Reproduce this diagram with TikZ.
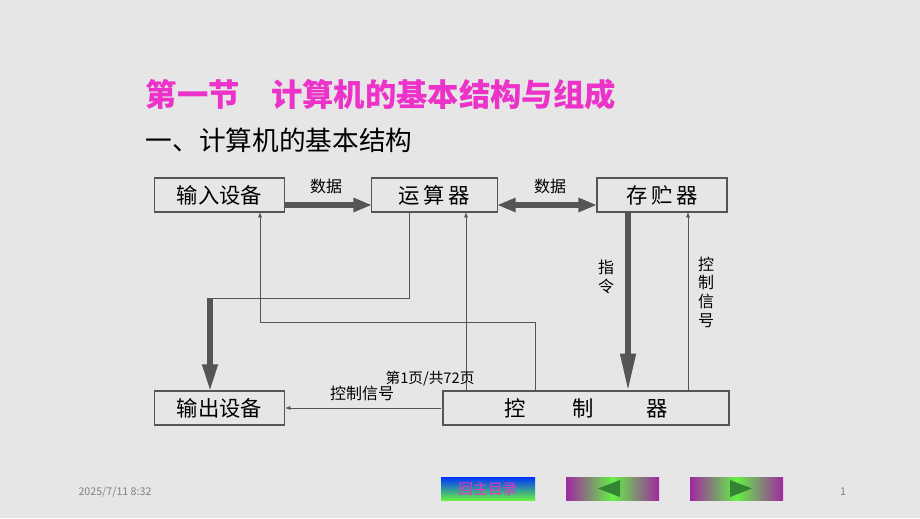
\documentclass[tikz,border=0pt]{standalone}
\usepackage{fontspec}
\setmainfont{Noto Sans CJK SC}
\usetikzlibrary{arrows.meta}
\definecolor{bg}{RGB}{230,230,230}
\definecolor{heavy}{RGB}{85,85,85}
\definecolor{titlepink}{RGB}{236,50,200}
\definecolor{navpurple}{RGB}{160,40,160}
\definecolor{navgreen}{RGB}{100,240,70}
\tikzset{
  unit/.style={draw=heavy,thick,fill=bg,inner sep=0pt,font=\fontsize{16}{16}\selectfont},
  fat/.style={heavy,line width=4pt,-{Triangle[length=14pt,width=10pt]}},
  ctrlline/.style={heavy,line width=0.5pt,-{Latex[length=4pt]}},
  lbl/.style={font=\fontsize{12}{14}\selectfont}
}
\begin{document}
\begin{tikzpicture}[x=0.75pt,y=-0.75pt]
    \fill[bg](0,0)rectangle(920,518);
    \useasboundingbox(0,0)rectangle(920,518);
    % title
    \node[anchor=west,text=titlepink,font=\fontsize{23.5}{24}\selectfont\bfseries](title)at(141,95){第一节\quad 计算机的基本结构与组成};
    \node[anchor=west,font=\fontsize{20}{20}\selectfont](sub)at(141,140){一、计算机的基本结构};
    % units
    \node[unit,minimum width=98pt,minimum height=25.5pt](in)at(219.5,195){输入设备};
    \node[unit,minimum width=94pt,minimum height=25.5pt](alu)at(434.5,195){运\,算\,器};
    \node[unit,minimum width=97.5pt,minimum height=25.5pt](mem)at(662,195){存\,贮\,器};
    \node[unit,minimum width=98pt,minimum height=25.5pt](out)at(219.5,408){输出设备};
    \node[unit,minimum width=214.5pt,minimum height=25.5pt](ctl)at(586,408){控\qquad\ 制\qquad\ \ 器};
    % data paths
    \draw[fat](285,205)--(372,205);
    \draw[fat,{Triangle[length=14pt,width=10pt]}-{Triangle[length=14pt,width=10pt]}](497,205)--(597,205);
    \draw[fat,-{Triangle[length=28pt,width=11pt]}](628,212)--(628,391);
    \draw[heavy,line width=0.5pt](409,212)--(409,298)--(210,298);
    \draw[fat,-{Triangle[length=20pt,width=11pt]}](210,298)--(210,391);
    % control paths
    \draw[ctrlline](688,391)--(688,212);
    \draw[ctrlline](466,391)--(466,212);
    \draw[ctrlline](535,391)--(535,322)--(260,322)--(260,212);
    \draw[ctrlline](441,408)--(285,408);
    % labels
    \node[lbl](d1)at(326,186){数据};
    \node[lbl](d2)at(550,186){数据};
    \node[lbl,align=center](ins)at(606,277){指\\令};
    \node[lbl,align=center](sig)at(706,292){控\\制\\信\\号};
    \node[lbl](sig2)at(362,393){控制信号};
    \node[lbl,font=\fontsize{11}{11}\selectfont](page)at(430,379){第1页/共72页};
    % footer
    \node[text=gray,font=\fontsize{8}{8}\selectfont](date)at(115,492){2025/7/11 8:32};
    \node[text=gray,font=\fontsize{8}{8}\selectfont](num)at(843,492){1};
    \shade[top color=blue!80!cyan,bottom color=navgreen](441,477)rectangle(535,500);
    \node[text=titlepink,font=\fontsize{11}{11}\selectfont](home)at(488,488.5){回主目录};
    \shade[left color=navpurple,right color=navgreen](566,477)rectangle(612.5,500);
    \shade[left color=navgreen,right color=navpurple](612.5,477)rectangle(659,500);
    \fill[green!40!black!80](598,488.5)--(620,480)--(620,497)--cycle;
    \shade[left color=navpurple,right color=navgreen](690,477)rectangle(736.5,500);
    \shade[left color=navgreen,right color=navpurple](736.5,477)rectangle(783,500);
    \fill[green!40!black!80](752,488.5)--(730,480)--(730,497)--cycle;
\end{tikzpicture}
\end{document}
